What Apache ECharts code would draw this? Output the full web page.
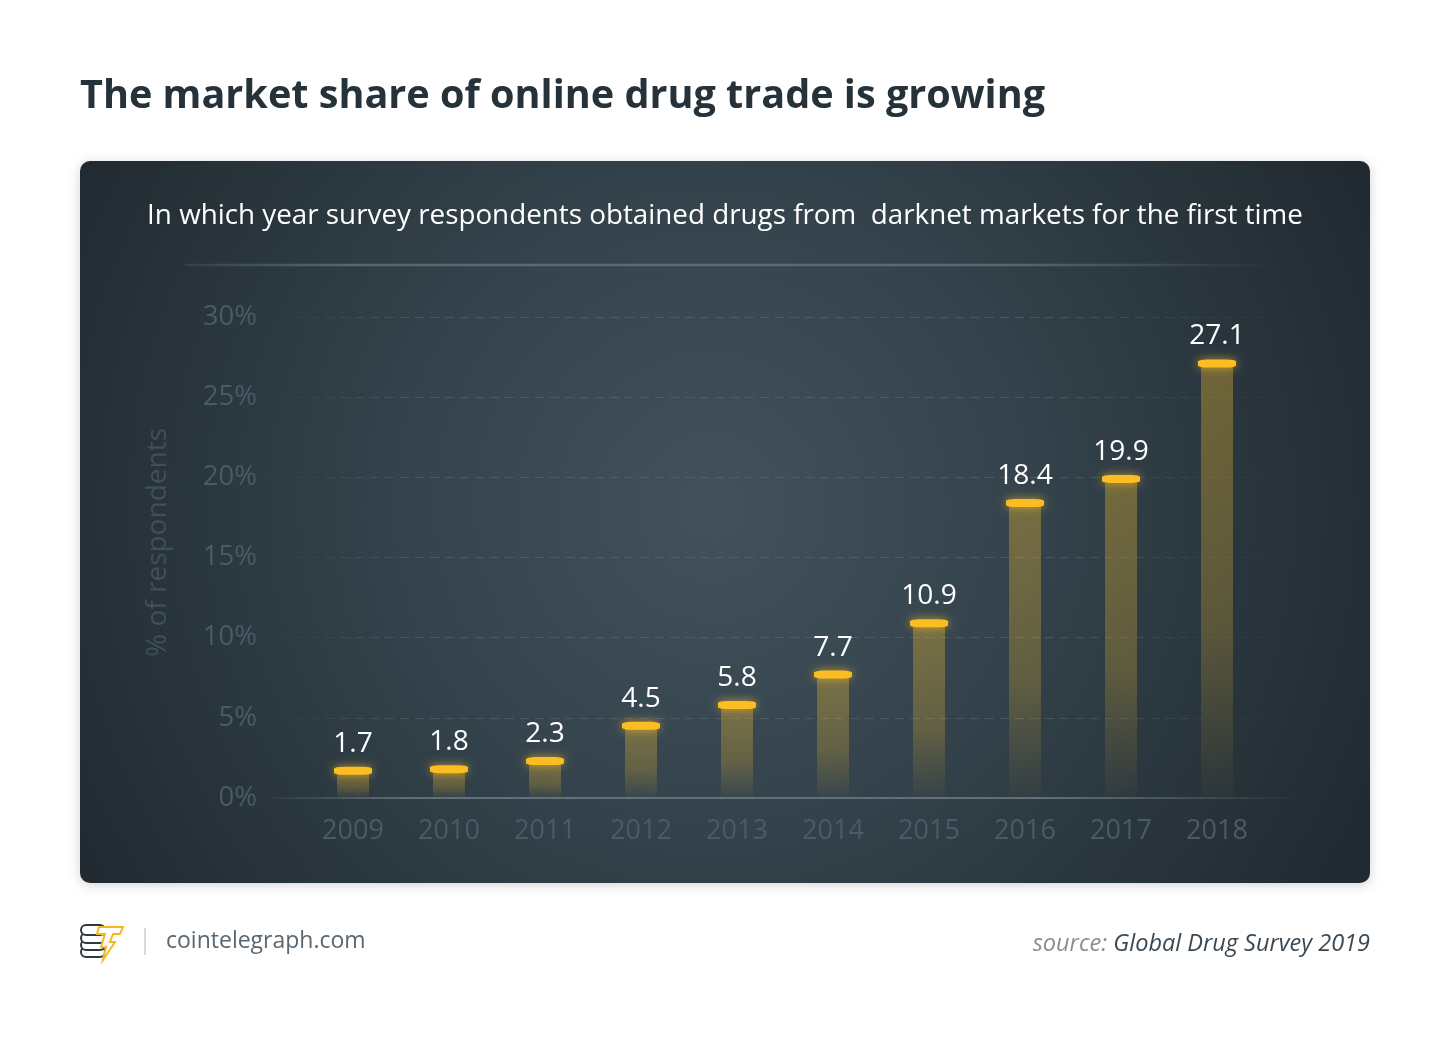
<!DOCTYPE html>
<html>
<head>
<meta charset="utf-8">
<script src="https://cdn.jsdelivr.net/npm/echarts@6/dist/echarts.min.js"></script>
<style>
html,body{margin:0;padding:0;background:#ffffff;}
#chart{width:1450px;height:1044px;}
</style>
</head>
<body>
<div id="chart"></div>
<script>
const years = ['2009','2010','2011','2012','2013','2014','2015','2016','2017','2018'];
const shares = [1.7, 1.8, 2.3, 4.5, 5.8, 7.7, 10.9, 18.4, 19.9, 27.1];
const yTicks = { min: 0, max: 30, interval: 5 };

const FONT = 'Open Sans';
const axisGrey = '#4a5b67';

const chart = echarts.init(document.getElementById('chart'), null, { renderer: 'canvas' });

function fadeH(color, a0, a1, a2, a3) {
  return {
    type: 'linear', x: 0, y: 0, x2: 1, y2: 0,
    colorStops: [
      { offset: 0, color: 'rgba(' + color + ',' + a0 + ')' },
      { offset: 0.15, color: 'rgba(' + color + ',' + a1 + ')' },
      { offset: 0.75, color: 'rgba(' + color + ',' + a2 + ')' },
      { offset: 1, color: 'rgba(' + color + ',' + a3 + ')' }
    ]
  };
}

const option = {
  backgroundColor: '#ffffff',
  animation: false,
  graphic: [
    {
      type: 'rect', z: -10,
      shape: { x: 80, y: 161, width: 1290, height: 722, r: 10 },
      style: {
        fill: {
          type: 'radial', x: 0.49, y: 0.48, r: 1.0,
          colorStops: [
            { offset: 0, color: '#42525c' },
            { offset: 0.45, color: '#33424b' },
            { offset: 1, color: '#212a30' }
          ]
        },
        shadowBlur: 12, shadowColor: 'rgba(0,0,0,0.18)', shadowOffsetY: 2
      }
    },
    {
      type: 'text', x: 80, y: 97, z: 10,
      style: { text: 'The market share of online drug trade is growing', font: 'bold 39.6px "Open Sans"', fill: '#26323a', textVerticalAlign: 'middle' }
    },
    {
      type: 'text', x: 725, y: 216, z: 10,
      style: { text: 'In which year survey respondents obtained drugs from  darknet markets for the first time', font: '27.8px "Open Sans"', fill: '#ffffff', textAlign: 'center', textVerticalAlign: 'middle' }
    },
    {
      type: 'line', z: 5,
      shape: { x1: 185, y1: 265, x2: 1275, y2: 265 },
      style: { stroke: fadeH('120,136,146', 0.15, 0.55, 0.55, 0), lineWidth: 2.5 }
    },
    // footer logo: coin stack
    { type: 'rect', shape: { x: 81, y: 947, width: 24, height: 10, r: 5 }, style: { fill: '#fff', stroke: '#2f3a40', lineWidth: 2 } },
    { type: 'rect', shape: { x: 81, y: 940, width: 24, height: 10, r: 5 }, style: { fill: '#fff', stroke: '#2f3a40', lineWidth: 2 } },
    { type: 'rect', shape: { x: 81, y: 933, width: 24, height: 10, r: 5 }, style: { fill: '#fff', stroke: '#2f3a40', lineWidth: 2 } },
    { type: 'rect', shape: { x: 81, y: 925, width: 24, height: 10, r: 5 }, style: { fill: '#fff', stroke: '#2f3a40', lineWidth: 2 } },
    {
      type: 'polygon',
      shape: { points: [[99,927],[123,927],[120,934],[113,934],[110,942],[115,942],[103,960],[106,947],[101,947],[105,934],[97,934]] },
      style: { fill: '#ffffff', stroke: '#f5b921', lineWidth: 2 }
    },
    { type: 'line', shape: { x1: 145, y1: 928, x2: 145, y2: 955 }, style: { stroke: '#c8ced2', lineWidth: 1.5 } },
    {
      type: 'text', x: 166, y: 941,
      style: { text: 'cointelegraph.com', font: '23px "Open Sans"', fill: '#5a6770', textVerticalAlign: 'middle' }
    },
    {
      type: 'text', x: 1370, y: 944,
      style: {
        text: '{a|source: }{b|Global Drug Survey 2019}',
        textAlign: 'right', textVerticalAlign: 'middle',
        rich: {
          a: { fontFamily: FONT, fontStyle: 'italic', fontSize: 23.5, fill: '#858f96' },
          b: { fontFamily: FONT, fontStyle: 'italic', fontSize: 23.5, fill: '#3b4852' }
        }
      }
    }
  ],
  grid: [
    { left: 305, right: 185, top: 317, bottom: 246 },
    { left: 265, right: 150, top: 317, bottom: 246 }
  ],
  xAxis: [
    {
      type: 'category', data: years, gridIndex: 0,
      axisLine: { show: false }, axisTick: { show: false },
      axisLabel: { color: axisGrey, fontFamily: FONT, fontSize: 27, margin: 20 }
    },
    {
      type: 'value', gridIndex: 1, min: 0, max: 1,
      axisLabel: { show: false }, axisTick: { show: false }, splitLine: { show: false },
      axisLine: { show: true, lineStyle: { color: fadeH('110,126,136', 0, 0.75, 0.75, 0), width: 2 } }
    }
  ],
  yAxis: [
    {
      type: 'value', gridIndex: 0, min: yTicks.min, max: yTicks.max, interval: yTicks.interval,
      axisLine: { show: false }, axisTick: { show: false }, splitLine: { show: false },
      axisLabel: { color: axisGrey, fontFamily: FONT, fontSize: 27.5, margin: 48, formatter: '{value}%' },
      name: '% of respondents', nameLocation: 'middle', nameGap: 133, nameRotate: 90,
      nameTextStyle: { color: '#3f505b', fontFamily: FONT, fontSize: 28, padding: [0, 0, 0, 30] }
    },
    {
      type: 'value', gridIndex: 1, min: yTicks.min, max: yTicks.max, interval: yTicks.interval,
      axisLine: { show: false }, axisTick: { show: false }, axisLabel: { show: false },
      splitLine: { show: true, lineStyle: { type: [9, 6], width: 1.2, color: fadeH('95,112,122', 0, 0.5, 0.5, 0) } }
    }
  ],
  series: [
    {
      type: 'bar', data: shares, xAxisIndex: 0, yAxisIndex: 0,
      barWidth: 32, barGap: '-100%',
      itemStyle: {
        color: {
          type: 'linear', x: 0, y: 0, x2: 0, y2: 1,
          colorStops: [
            { offset: 0, color: 'rgba(246,190,45,0.34)' },
            { offset: 0.6, color: 'rgba(246,190,45,0.24)' },
            { offset: 1, color: 'rgba(246,190,45,0.02)' }
          ]
        }
      },
      z: 2
    },
    {
      type: 'pictorialBar', data: shares, xAxisIndex: 0, yAxisIndex: 0,
      barWidth: 32, barGap: '-100%',
      symbol: 'roundRect', symbolSize: [38, 8], symbolPosition: 'end', symbolOffset: [0, '-50%'],
      itemStyle: { color: '#fbbd22', shadowBlur: 10, shadowColor: 'rgba(251,190,35,0.7)' },
      label: { show: true, position: 'top', distance: 9, color: '#ffffff', fontFamily: FONT, fontSize: 28 },
      z: 4
    }
  ]
};

chart.setOption(option);
</script>
</body>
</html>
